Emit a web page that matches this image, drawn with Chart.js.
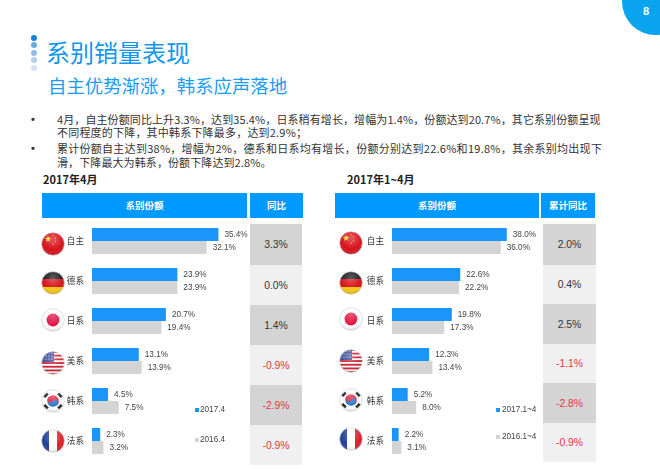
<!DOCTYPE html>
<html lang="zh">
<head>
<meta charset="utf-8">
<title>系别销量表现</title>
<script src="https://cdn.jsdelivr.net/npm/chart.js@4"></script>
<style>
  html, body { margin: 0; padding: 0; background: #fff; }
  body { position: relative; width: 660px; height: 470px; overflow: hidden; font-family: "Noto Sans CJK SC", sans-serif; color: #333; }
  .abs { position: absolute; white-space: nowrap; }
  .dot { position: absolute; width: 6px; height: 6px; border-radius: 50%; left: 31px; }
  .badge { position: absolute; left: 622px; top: -32px; width: 67px; height: 67px; border-radius: 50%; background: #0aa5ee; }
  .page-no { left: 641px; top: 3px; width: 10px; text-align: center; color: #fff; font: bold 11px "Liberation Sans", sans-serif; line-height: 16px; }
  .title { left: 46px; top: 35px; font-size: 24px; line-height: 34px; color: #1296ee; }
  .subtitle { left: 48px; top: 72px; font-size: 18.4px; line-height: 26px; color: #1a9cf5; }
  .line { font-size: 11px; line-height: 14px; color: #333; }
  .bullet { font: bold 11px "Liberation Sans", sans-serif; line-height: 14px; left: 31px; }
  .section { font-size: 11px; font-weight: bold; line-height: 16px; color: #222; top: 171px; }
  .head { position: absolute; top: 193px; height: 25px; line-height: 25px; background: #0099ff; color: #fff; font-size: 9.5px; font-weight: bold; text-align: center; }
  .cell { position: absolute; text-align: center; font: 10.4px "Liberation Sans", sans-serif; display: flex; align-items: center; justify-content: center; }
  .swatch { position: absolute; width: 4px; height: 4px; }
  .legend { position: absolute; font: 8.2px "Liberation Sans", sans-serif; color: #444; line-height: 10px; overflow: hidden; white-space: nowrap; }
  canvas { position: absolute; }
  .flag { position: absolute; width: 24px; height: 24px; }
</style>
</head>
<body>
<div class="badge"></div>
<div class="abs page-no">8</div>
<div class="dot" style="top:35px;background:#1480e0"></div>
<div class="dot" style="top:42px;background:#6fa8e0"></div>
<div class="dot" style="top:50px;background:#8fbdea"></div>
<div class="dot" style="top:57px;background:#b2d1ef"></div>
<div class="dot" style="top:65px;background:#d6e1ef"></div>
<div class="abs title">系别销量表现</div>
<div class="abs subtitle">自主优势渐涨，韩系应声落地</div>
<div class="abs bullet" style="top:112px">•</div>
<div class="abs line" style="left:57px;top:112px;letter-spacing:.1px">4月，自主份额同比上升3.3%，达到35.4%，日系稍有增长，增幅为1.4%，份额达到20.7%，其它系别份额呈现</div>
<div class="abs line" style="left:57px;top:125px;letter-spacing:.2px">不同程度的下降，其中韩系下降最多，达到2.9%；</div>
<div class="abs bullet" style="top:141px">•</div>
<div class="abs line" style="left:57px;top:141px;letter-spacing:.27px">累计份额自主达到38%，增幅为2%，德系和日系均有增长，份额分别达到22.6%和19.8%，其余系别均出现下</div>
<div class="abs line" style="left:57px;top:155px;letter-spacing:.1px">滑，下降最大为韩系，份额下降达到2.8%。</div>
<div class="abs section" style="left:43px">2017年4月</div>
<div class="abs section" style="left:347px">2017年1~4月</div>
<div id="panels"></div>

<script>
const categories = ["自主", "德系", "日系", "美系", "韩系", "法系"];
const flagKinds = ["cn", "de", "jp", "us", "kr", "fr"];

const monthSeriesNames = ["2017.4", "2016.4"];
const month2017 = [35.4, 23.9, 20.7, 13.1, 4.5, 2.3];
const month2016 = [32.1, 23.9, 19.4, 13.9, 7.5, 3.2];
const monthChange = ["3.3%", "0.0%", "1.4%", "-0.9%", "-2.9%", "-0.9%"];

const ytdSeriesNames = ["2017.1~4", "2016.1~4"];
const ytd2017 = [38.0, 22.6, 19.8, 12.3, 5.2, 2.2];
const ytd2016 = [36.0, 22.2, 17.3, 13.4, 8.0, 3.1];
const ytdChange = ["2.0%", "0.4%", "2.5%", "-1.1%", "-2.8%", "-0.9%"];

const BLUE = "#1a96fa";
const GRAY = "#d4d4d4";

const panels = [
  {
    id: "month",
    names: monthSeriesNames,
    current: month2017,
    previous: month2016,
    change: monthChange,
    changeTitle: "同比",
    chartLeft: 62,
    chartWidth: 200,
    xMax: 47.6,
    head: [[42, 205], [250, 53]],
    cellX: [250, 52],
    cellEdges: [224, 265, 305, 345, 385, 425, 465],
    flagX: 41,
    flagY: [232, 271, 308, 351, 389, 429],
    swatchX: 195,
    legendX: 200,
    legendY: [405, 435],
    legendW: 40
  },
  {
    id: "ytd",
    names: ytdSeriesNames,
    current: ytd2017,
    previous: ytd2016,
    change: ytdChange,
    changeTitle: "累计同比",
    chartLeft: 362,
    chartWidth: 178,
    xMax: 49,
    head: [[335, 204], [541, 54]],
    cellX: [543, 53],
    cellEdges: [224, 265, 304, 344, 383, 423, 462],
    flagX: 339,
    flagY: [231, 271, 307, 349, 388, 427],
    swatchX: 496,
    legendX: 502,
    legendY: [405, 432],
    legendW: 34
  }
];

// value labels sit just past the end of each bar
const valueLabels = {
  id: "valueLabels",
  afterDatasetsDraw(chart) {
    const ctx = chart.ctx;
    ctx.save();
    ctx.font = '8.2px "Liberation Sans"';
    ctx.fillStyle = "#444";
    ctx.textBaseline = "middle";
    chart.data.datasets.forEach((dataset, i) => {
      chart.getDatasetMeta(i).data.forEach((bar, j) => {
        ctx.fillText(dataset.data[j].toFixed(1) + "%", bar.x + 6, bar.y);
      });
    });
    ctx.restore();
  }
};

function el(tag, className, style, text) {
  const node = document.createElement(tag);
  node.className = className;
  node.style.cssText = style;
  if (text !== undefined) node.textContent = text;
  return node;
}

function star(cx, cy, r) {
  const pts = [];
  for (let i = 0; i < 10; i++) {
    const a = -Math.PI / 2 + (i * Math.PI) / 5;
    const rr = i % 2 ? r * 0.4 : r;
    pts.push((cx + rr * Math.cos(a)).toFixed(2) + "," + (cy + rr * Math.sin(a)).toFixed(2));
  }
  return `<polygon points="${pts.join(" ")}" fill="#ffdc3c"/>`;
}

function flagArt(kind) {
  if (kind === "cn") {
    return `<rect width="24" height="24" fill="#d8121c"/>` + star(7, 7, 3.6) + star(12, 3.5, 1) + star(14.5, 6, 1) + star(14.5, 9.5, 1) + star(12, 12, 1);
  }
  if (kind === "de") {
    return `<rect width="24" height="8" fill="#1a1a1a"/><rect y="8" width="24" height="8" fill="#d3141c"/><rect y="16" width="24" height="8" fill="#f5c518"/>`;
  }
  if (kind === "jp") {
    return `<rect width="24" height="24" fill="#fff"/><circle cx="12" cy="12" r="6.4" fill="#e0103f"/>`;
  }
  if (kind === "us") {
    let s = `<rect width="24" height="24" fill="#fff"/>`;
    for (let i = 0; i < 7; i++) s += `<rect y="${i * 3.7}" width="24" height="1.85" fill="#c8202c"/>`;
    s += `<rect width="13" height="11" fill="#3a4f96"/>`;
    for (let i = 0; i < 4; i++) for (let j = 0; j < 3; j++) s += `<circle cx="${2 + i * 3}" cy="${2 + j * 3}" r=".6" fill="#fff"/>`;
    return s;
  }
  if (kind === "kr") {
    return `<rect width="24" height="24" fill="#fff"/>
      <path d="M6.2 12a5.8 5.8 0 0 1 11.6 0z" fill="#e0213c" transform="rotate(30 12 12)"/>
      <path d="M6.2 12a5.8 5.8 0 0 0 11.6 0z" fill="#2a78c4" transform="rotate(30 12 12)"/>
      <circle cx="9.5" cy="10.55" r="2.9" fill="#e0213c"/><circle cx="14.5" cy="13.45" r="2.9" fill="#2a78c4"/>
      <g fill="#222"><rect x="2.6" y="5.2" width="5" height="2.6" transform="rotate(-45 5 6.5)"/><rect x="16.4" y="5.2" width="5" height="2.6" transform="rotate(45 19 6.5)"/><rect x="2.6" y="16.2" width="5" height="2.6" transform="rotate(45 5 17.5)"/><rect x="16.4" y="16.2" width="5" height="2.6" transform="rotate(-45 19 17.5)"/></g>`;
  }
  return `<rect width="8" height="24" fill="#1f3f94"/><rect x="8" width="8" height="24" fill="#fff"/><rect x="16" width="8" height="24" fill="#d8202c"/>`;
}

function addFlag(parent, kind, key, x, y) {
  const wrap = el("div", "flag", `left:${x}px;top:${y}px`);
  wrap.innerHTML = `<svg width="24" height="24" viewBox="0 0 24 24">
    <defs>
      <clipPath id="c${key}"><circle cx="12" cy="12" r="11.3"/></clipPath>
      <radialGradient id="g${key}" cx="50%" cy="30%" r="75%">
        <stop offset="0" stop-color="#fff" stop-opacity=".3"/>
        <stop offset=".6" stop-color="#fff" stop-opacity="0"/>
        <stop offset="1" stop-color="#000" stop-opacity=".3"/>
      </radialGradient>
    </defs>
    <g clip-path="url(#c${key})">${flagArt(kind)}<rect width="24" height="24" fill="url(#g${key})"/></g>
    <circle cx="12" cy="12" r="11.3" fill="none" stroke="#ccc" stroke-width=".6"/>
  </svg>`;
  parent.appendChild(wrap);
}

function buildPanel(panel) {
  const root = document.getElementById("panels");

  const [share, changeHead] = panel.head;
  root.appendChild(el("div", "head", `left:${share[0]}px;width:${share[1]}px`, "系别份额"));
  root.appendChild(el("div", "head", `left:${changeHead[0]}px;width:${changeHead[1]}px`, panel.changeTitle));

  panel.change.forEach((value, i) => {
    const top = panel.cellEdges[i];
    const height = panel.cellEdges[i + 1] - top;
    const color = value.startsWith("-") ? "#e2343f" : "#333";
    const bg = i % 2 === 0 ? "#d4d4d4" : "#f0f0f0";
    root.appendChild(el("div", "cell",
      `left:${panel.cellX[0]}px;width:${panel.cellX[1]}px;top:${top}px;height:${height}px;background:${bg};color:${color}`, value));
  });

  flagKinds.forEach((kind, i) => addFlag(root, kind, panel.id + i, panel.flagX, panel.flagY[i]));

  const canvas = document.createElement("canvas");
  canvas.width = panel.chartWidth;
  canvas.height = 240;
  canvas.style.cssText = `left:${panel.chartLeft}px;top:220.5px;width:${panel.chartWidth}px;height:240px`;
  root.appendChild(canvas);

  new Chart(canvas, {
    type: "bar",
    data: {
      labels: categories,
      datasets: [
        { label: panel.names[0], data: panel.current, backgroundColor: BLUE },
        { label: panel.names[1], data: panel.previous, backgroundColor: GRAY }
      ]
    },
    options: {
      indexAxis: "y",
      responsive: false,
      animation: false,
      datasets: { bar: { categoryPercentage: 0.65, barPercentage: 1 } },
      layout: { padding: 0 },
      plugins: { legend: { display: false }, tooltip: { enabled: false } },
      scales: {
        x: { display: false, min: 0, max: panel.xMax },
        y: {
          // the tick padding would otherwise shrink the band height
          afterFit(scale) {
            scale.width = 30;
            scale.paddingTop = 0;
            scale.paddingBottom = 0;
          },
          grid: { display: false, drawTicks: false },
          border: { display: false },
          ticks: { color: "#333", padding: 8, font: { family: "Noto Sans CJK SC", size: 8.6 } }
        }
      }
    },
    plugins: [valueLabels]
  });

  panel.names.forEach((name, i) => {
    const y = panel.legendY[i];
    const color = i === 0 ? BLUE : GRAY;
    root.appendChild(el("div", "swatch", `left:${panel.swatchX}px;top:${y + 3}px;background:${color}`));
    root.appendChild(el("div", "legend", `left:${panel.legendX}px;top:${y}px;width:${panel.legendW}px`, name));
  });
}

panels.forEach(buildPanel);
</script>
</body>
</html>
